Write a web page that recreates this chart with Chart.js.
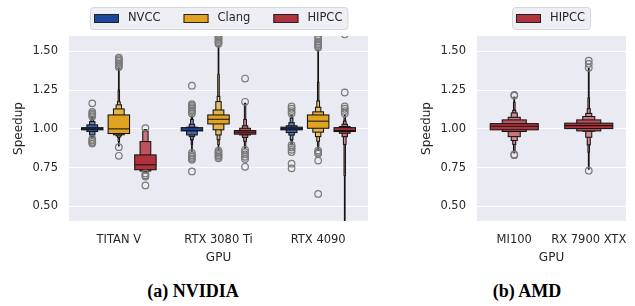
<!DOCTYPE html>
<html>
<head>
<meta charset="utf-8">
<script src="https://cdn.jsdelivr.net/npm/chart.js@4.4.1/dist/chart.umd.min.js"></script>
<style>
  html, body { margin: 0; padding: 0; background: #fff; }
  body { width: 635px; height: 306px; position: relative; overflow: hidden; }
  #nv { position: absolute; left: 0; top: 0; }
  #amd { position: absolute; left: 408px; top: 0; }
  .cap { position: absolute; top: 281px; line-height: 22px; font: bold 18px "Liberation Serif"; color: #000;
         transform: translateX(-50%); white-space: nowrap; }
</style>
</head>
<body>
<canvas id="nv" width="380" height="270"></canvas>
<canvas id="amd" width="227" height="270"></canvas>
<div class="cap" style="left:193px">(a) NVIDIA</div>
<div class="cap" style="left:527px">(b) AMD</div>
<script>
// ---- data ----
const nvidiaGpus = ["TITAN V", "RTX 3080 Ti", "RTX 4090"];
const amdGpus = ["MI100", "RX 7900 XTX"];
const compilers = ["NVCC", "Clang", "HIPCC"];
const yTicks = [0.5, 0.75, 1.0, 1.25, 1.5];

// letter-value boxes [lo, hi], innermost (quartiles) first
const nvccMedians = [1.0, 0.99, 1.0];
const nvccLevels = [
  [[0.994, 1.008], [0.983, 1.026], [0.961, 1.047], [0.95, 1.06], [0.94, 1.075]],
  [[0.987, 1.008], [0.961, 1.011], [0.95, 1.03], [0.93, 1.06], [0.90, 1.075], [0.855, 1.085]],
  [[0.994, 1.011], [0.976, 1.02], [0.96, 1.04], [0.93, 1.07], [0.897, 1.09]],
];
const nvccOutliers = [
  [1.165, 1.11, 1.10, 1.09, 1.08, 0.935, 0.925, 0.915, 0.905],
  [1.279, 1.16, 1.15, 1.14, 1.13, 1.12, 1.11, 1.10, 0.845, 0.83, 0.82, 0.81, 0.80, 0.725],
  [1.145, 1.13, 1.115, 1.10, 0.895, 0.88, 0.865, 0.85, 0.775, 0.745],
];

const clangMedians = [1.0, 1.062, 1.05];
const clangLevels = [
  [[0.970, 1.090], [0.962, 1.129], [0.955, 1.155], [0.945, 1.175], [0.92, 1.25], [0.89, 1.395]],
  [[1.032, 1.090], [0.994, 1.122], [0.961, 1.176], [0.93, 1.21], [0.90, 1.35], [0.865, 1.54]],
  [[1.004, 1.090], [0.979, 1.11], [0.95, 1.14], [0.92, 1.18], [0.89, 1.30], [0.865, 1.515]],
];
const clangOutliers = [
  [1.40, 1.41, 1.42, 1.43, 1.44, 1.45, 1.46, 0.882, 0.826],
  [1.55, 1.56, 1.57, 1.58, 1.59, 1.60, 0.86, 0.85, 0.84, 0.83, 0.82, 0.81],
  [1.525, 1.535, 1.545, 1.555, 1.565, 1.58, 1.595, 0.86, 0.85, 0.84, 0.795, 0.58],
];

const hipccNvMedians = [0.768, 0.979, 0.99];
const hipccNvLevels = [
  [[0.736, 0.832], [0.728, 0.918], [0.722, 0.983], [0.718, 0.995]],
  [[0.966, 0.989], [0.961, 1.004], [0.945, 1.02], [0.92, 1.06], [0.875, 1.165]],
  [[0.983, 1.008], [0.972, 1.015], [0.95, 1.03], [0.9, 1.05], [0.7, 1.08], [0.2, 1.09]],
];
const hipccNvOutliers = [
  [1.005, 0.712, 0.70, 0.692, 0.635],
  [1.325, 1.175, 0.865, 0.85, 0.835, 0.82, 0.805, 0.755],
  [1.61, 1.235, 1.145, 1.13, 1.115, 1.10],
];

const hipccAmdMedians = [1.017, 1.021];
const hipccAmdLevels = [
  [[0.994, 1.034], [0.983, 1.058], [0.95, 1.075], [0.925, 1.103], [0.90, 1.12], [0.86, 1.17], [0.845, 1.205]],
  [[1.002, 1.037], [0.987, 1.058], [0.985, 1.08], [0.946, 1.10], [0.897, 1.13], [0.85, 1.20], [0.74, 1.39]],
];
const hipccAmdOutliers = [
  [1.22, 1.215, 0.835, 0.83],
  [1.395, 1.42, 1.44, 0.73],
];

const colors = { NVCC: "#1c479a", Clang: "#e0a422", HIPCC: "#b0323d" };
const ink = "#262626";
const FONT = "DejaVu Sans";

// mix a hex colour towards white
const shade = (hex, t) => {
  const n = parseInt(hex.slice(1), 16);
  const c = [(n >> 16) & 255, (n >> 8) & 255, n & 255].map((v) => Math.round(v + (255 - v) * t));
  return `rgb(${c[0]},${c[1]},${c[2]})`;
};

// ---- boxen + background + legend plugin ----
const makeBoxenPlugin = (boxes, legendItems, { widthFrac = 0.2 } = {}) => ({
  id: "boxen_" + Math.random().toString(36).slice(2),
  beforeDraw: (chart) => {
    const { ctx, chartArea: a } = chart;
    ctx.save();
    ctx.fillStyle = "#eaeaf2";
    ctx.fillRect(a.left, a.top, a.width, a.height);
    ctx.restore();
  },
  beforeDatasetsDraw: (chart) => {
    const { ctx, chartArea: a, scales } = chart;
    const { x, y } = scales;
    const band = x.getPixelForValue(1) - x.getPixelForValue(0);
    ctx.save();
    ctx.beginPath();
    ctx.rect(a.left, a.top, a.width, a.height);
    ctx.clip();
    ctx.strokeStyle = "#141414";
    ctx.lineWidth = 1.05;
    boxes.forEach((b) => {
      const cx = x.getPixelForValue(b.x);
      for (let i = b.levels.length - 1; i >= 0; i--) {
        const [lo, hi] = b.levels[i];
        const w = band * widthFrac * Math.pow(0.5, i);
        const top = y.getPixelForValue(hi);
        const bot = y.getPixelForValue(lo);
        ctx.fillStyle = shade(b.color, Math.min(0.16 * i, 0.45));
        ctx.fillRect(cx - w / 2, top, w, bot - top);
        ctx.strokeRect(cx - w / 2, top, w, bot - top);
      }
      const w0 = band * widthFrac;
      const my = y.getPixelForValue(b.median);
      ctx.beginPath();
      ctx.moveTo(cx - w0 / 2, my);
      ctx.lineTo(cx + w0 / 2, my);
      ctx.stroke();
    });
    ctx.restore();
  },
  afterDraw: (chart) => {
    const { ctx, chartArea: a } = chart;
    ctx.save();
    ctx.font = `11.5px "${FONT}"`;
    const widths = legendItems.map((l) => ctx.measureText(l).width);
    const patchW = 25, patchH = 9, gap = 9, itemGap = 23, padL = 4, padR = 5;
    const total = padL + padR + widths.reduce((s, w) => s + patchW + gap + w, 0) + itemGap * (legendItems.length - 1);
    const x0 = Math.round((a.left + a.right) / 2 - total / 2);
    const top = 7, h = 22;
    ctx.fillStyle = "#eeeef5";
    ctx.strokeStyle = "#d6d6d6";
    ctx.lineWidth = 1;
    ctx.beginPath();
    ctx.roundRect(x0 + 0.5, top + 0.5, total, h, 3);
    ctx.fill();
    ctx.stroke();
    let cx = x0 + padL;
    const midY = top + h / 2 + 0.5;
    legendItems.forEach((l, i) => {
      ctx.fillStyle = colors[l];
      ctx.strokeStyle = "#222";
      ctx.fillRect(cx, midY - patchH / 2, patchW, patchH);
      ctx.strokeRect(cx + 0.5, midY - patchH / 2 + 0.5, patchW - 1, patchH - 1);
      ctx.fillStyle = ink;
      ctx.textBaseline = "middle";
      ctx.textAlign = "left";
      ctx.fillText(l, cx + patchW + gap, midY);
      cx += patchW + gap + widths[i] + itemGap;
    });
    ctx.restore();
  },
});

// ---- assemble boxes and outlier points ----
const hueOffsets = [-0.2667, 0, 0.2667];
const nvSeries = [
  ["NVCC", nvccMedians, nvccLevels, nvccOutliers],
  ["Clang", clangMedians, clangLevels, clangOutliers],
  ["HIPCC", hipccNvMedians, hipccNvLevels, hipccNvOutliers],
];
const nvBoxes = [];
const nvPoints = [];
nvidiaGpus.forEach((g, gi) => {
  nvSeries.forEach(([name, med, lev, out], hi) => {
    const xv = gi + hueOffsets[hi];
    nvBoxes.push({ x: xv, median: med[gi], levels: lev[gi], color: colors[name] });
    out[gi].forEach((v) => nvPoints.push({ x: xv, y: v }));
  });
});

const amdBoxes = [];
const amdPoints = [];
amdGpus.forEach((g, gi) => {
  amdBoxes.push({ x: gi, median: hipccAmdMedians[gi], levels: hipccAmdLevels[gi], color: colors.HIPCC });
  hipccAmdOutliers[gi].forEach((v) => amdPoints.push({ x: gi, y: v }));
});

const makeOptions = (labels) => ({
  responsive: false,
  animation: false,
  layout: { padding: { top: 36, right: 12, bottom: 4, left: 0 } },
  plugins: { legend: { display: false }, tooltip: { enabled: false } },
  scales: {
    x: {
      type: "linear",
      min: -0.5,
      max: labels.length - 0.5,
      afterBuildTicks: (s) => { s.ticks = labels.map((_, i) => ({ value: i })); },
      afterFit: (s) => { s.height = 45; },
      ticks: { callback: (v) => labels[v], color: ink, font: { family: FONT, size: 11.5 }, padding: 4, maxRotation: 0, autoSkip: false },
      grid: { display: false },
      border: { display: false },
      title: { display: true, text: "GPU", color: ink, font: { family: FONT, size: 12 }, padding: { top: 0, bottom: 1 } },
    },
    y: {
      min: 0.405,
      max: 1.6,
      afterBuildTicks: (s) => { s.ticks = yTicks.map((v) => ({ value: v })); },
      afterFit: (s) => { s.width = 69; },
      ticks: { callback: (v) => Number(v).toFixed(2), color: ink, font: { family: FONT, size: 11.5 }, padding: 11 },
      grid: { color: "#ffffff", lineWidth: 1, drawTicks: false },
      border: { display: false },
      title: { display: true, text: "Speedup", color: ink, font: { family: FONT, size: 12 }, padding: { top: 12, bottom: 0 } },
    },
  },
});

const outlierStyle = {
  type: "scatter",
  showLine: false,
  pointRadius: 3.3,
  pointBorderWidth: 1.2,
  pointBorderColor: "#7a7a7a",
  pointBackgroundColor: "rgba(0,0,0,0)",
  clip: 0,
};

new Chart(document.getElementById("nv").getContext("2d"), {
  type: "scatter",
  data: { datasets: [{ ...outlierStyle, data: nvPoints }] },
  options: makeOptions(nvidiaGpus),
  plugins: [makeBoxenPlugin(nvBoxes, compilers, { widthFrac: 0.215 })],
});

const amdOpts = makeOptions(amdGpus);
amdOpts.layout.padding.right = 9;
new Chart(document.getElementById("amd").getContext("2d"), {
  type: "scatter",
  data: { datasets: [{ ...outlierStyle, data: amdPoints }] },
  options: amdOpts,
  plugins: [makeBoxenPlugin(amdBoxes, ["HIPCC"], { widthFrac: 0.645 })],
});
</script>
</body>
</html>
